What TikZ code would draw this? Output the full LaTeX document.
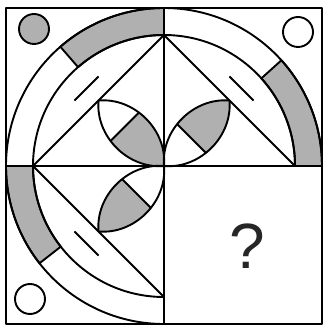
\documentclass[tikz,border=0pt]{standalone}
\usepackage{fontspec}
\newfontfamily\qfont{Liberation Sans}
\usetikzlibrary{calc}

\begin{document}
\begin{tikzpicture}[x=1pt,y=1pt,line width=1.9pt,line join=round]
  \useasboundingbox (-164,-162) rectangle (161,166);
  \def\gry{black!31}
  \def\ro{158}
  \def\ri{131}
  \def\d{92.6}
  \tikzset{petal/.style={draw=black}, band/.style={fill=\gry,draw=black}}
  % shaded pieces of the ring
  \foreach \a/\b in {90/131,0/42,180/218} {
    \filldraw[band] (\a:\ri) -- (\a:\ro) arc[start angle=\a,end angle=\b,radius=\ro]
      -- (\b:\ri) arc[start angle=\b,end angle=\a,radius=\ri] -- cycle;
  }
  \draw (0:\ro) arc[start angle=0,end angle=270,radius=\ro];
  \draw (0:\ri) arc[start angle=0,end angle=270,radius=\ri];

  % diagonal, dash and leaf in three quarters
  \foreach \r/\s/\e/\c in {135/0/0.6/0.6, 45/0.42/1/0.42, 225/0.42/1/0.42} {
    \begin{scope}[rotate=\r]
      \draw (\d,-\d) -- (\d,\d);
      \draw (\d+17,-17) -- (\d+17,17);
      \begin{scope}
        \clip (0,0) to[bend left=50] (\d,0) to[bend left=50] (0,0);
        \fill[\gry] (\s*\d,-30) rectangle (\e*\d,30);
        \draw (\c*\d,-30) -- (\c*\d,30);
      \end{scope}
      \draw[petal] (0,0) to[bend left=50] (\d,0) to[bend left=50] (0,0);
    \end{scope}
  }

  \draw (-158,-158) rectangle (158,158);
  \draw (-158,0) -- (158,0) (0,-158) -- (0,158);

  \filldraw[fill=\gry] (-130,137) circle[radius=15];
  \draw (134,134) circle[radius=15];
  \draw (-134,-133) circle[radius=15];

  \node[font=\qfont\fontsize{64}{64}\selectfont,text=black!85] (q) at (83,-80) {?};
\end{tikzpicture}
\end{document}
